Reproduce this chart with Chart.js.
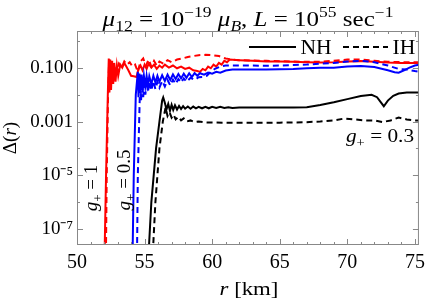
<!DOCTYPE html>
<html>
<head>
<meta charset="utf-8">
<script src="https://cdn.jsdelivr.net/npm/chart.js@4.4.0/dist/chart.umd.min.js"></script>
<style>
  html, body { margin: 0; padding: 0; background: #fff; }
  #wrap { width: 431px; height: 300px; }
</style>
</head>
<body>
<div id="wrap"><canvas id="chart" width="431" height="300"></canvas></div>
<script>
// g+ = 1 (red)
const red_NH_r = [52.0, 52.15, 52.28, 52.35, 52.4, 52.46, 52.52, 52.6, 52.68, 52.76, 52.85, 52.95, 53.05, 53.2, 53.35, 53.5, 53.65, 53.8, 54.0, 54.2, 54.4, 54.55, 54.7, 54.85, 55.0, 55.15, 55.3, 55.5, 55.7, 55.9, 56.1, 56.3, 56.5, 56.8, 57.1, 57.4, 57.7, 58.0, 58.3, 58.6, 58.9, 59.1, 59.3, 59.5, 59.7, 59.9, 60.1, 60.3, 60.5, 60.7, 60.9, 61.1, 61.3, 62, 63, 64, 65, 66, 67, 68, 69, 70, 71, 72, 73, 74, 75, 75.4];
const red_NH_d = [1e-9, 1e-5, 1e-2, 0.22, 0.012, 0.2, 0.015, 0.18, 0.025, 0.15, 0.03, 0.12, 0.05, 0.13, 0.1, 0.15, 0.11, 0.08, 0.05, 0.048, 0.045, 0.09, 0.12, 0.08, 0.13, 0.09, 0.14, 0.1, 0.13, 0.09, 0.12, 0.1, 0.13, 0.1, 0.12, 0.095, 0.11, 0.09, 0.1, 0.08, 0.075, 0.07, 0.09, 0.08, 0.11, 0.095, 0.13, 0.11, 0.15, 0.13, 0.18, 0.16, 0.2, 0.19, 0.18, 0.17, 0.17, 0.165, 0.16, 0.155, 0.16, 0.17, 0.175, 0.165, 0.155, 0.15, 0.15, 0.15];
const red_IH_r = [52.12, 52.2, 52.3, 52.38, 52.45, 52.55, 52.65, 52.8, 52.95, 53.1, 53.3, 53.5, 53.7, 53.9, 54.1, 54.3, 54.5, 54.7, 54.9, 55.1, 55.3, 55.5, 55.7, 55.9, 56.1, 56.4, 56.7, 57.0, 57.4, 57.8, 58.2, 58.6, 59.0, 59.5, 60.0, 60.5, 61.0, 61.5, 62, 63, 64, 65, 66, 67, 68, 69, 70, 71, 72, 73, 74, 75, 75.4];
const red_IH_d = [1e-9, 1e-5, 1e-2, 0.2, 0.03, 0.15, 0.05, 0.12, 0.07, 0.14, 0.1, 0.17, 0.13, 0.16, 0.11, 0.13, 0.07, 0.17, 0.22, 0.12, 0.2, 0.11, 0.18, 0.12, 0.17, 0.14, 0.19, 0.16, 0.2, 0.22, 0.25, 0.27, 0.29, 0.3, 0.29, 0.27, 0.22, 0.2, 0.19, 0.185, 0.18, 0.175, 0.17, 0.165, 0.165, 0.18, 0.2, 0.2, 0.18, 0.165, 0.16, 0.16, 0.16];

// g+ = 0.5 (blue)
const blue_NH_r = [54.08, 54.2, 54.35, 54.5, 54.55, 54.62, 54.7, 54.78, 54.86, 54.95, 55.05, 55.15, 55.25, 55.35, 55.5, 55.65, 55.8, 55.95, 56.1, 56.3, 56.5, 56.7, 56.9, 57.1, 57.3, 57.5, 57.7, 57.9, 58.1, 58.3, 58.5, 58.7, 58.9, 59.1, 59.4, 59.7, 60, 60.3, 60.6, 61, 61.5, 62, 63, 64, 65, 66, 67, 68, 69, 70, 71, 72, 73, 73.5, 73.8, 74.2, 74.6, 75, 75.4];
const blue_NH_d = [1e-9, 1e-5, 1e-2, 0.07, 0.008, 0.06, 0.012, 0.055, 0.015, 0.05, 0.02, 0.05, 0.022, 0.048, 0.025, 0.05, 0.028, 0.05, 0.03, 0.052, 0.032, 0.055, 0.035, 0.056, 0.038, 0.058, 0.04, 0.06, 0.042, 0.062, 0.045, 0.063, 0.05, 0.062, 0.055, 0.066, 0.06, 0.07, 0.065, 0.078, 0.085, 0.085, 0.085, 0.085, 0.088, 0.09, 0.095, 0.1, 0.1, 0.11, 0.115, 0.105, 0.08, 0.068, 0.065, 0.08, 0.1, 0.12, 0.13];
const blue_IH_r = [54.42, 54.5, 54.6, 54.68, 54.74, 54.82, 54.9, 54.98, 55.06, 55.15, 55.25, 55.35, 55.5, 55.65, 55.8, 55.95, 56.1, 56.3, 56.5, 56.7, 56.9, 57.1, 57.3, 57.5, 57.7, 57.9, 58.1, 58.4, 58.7, 59.0, 59.3, 59.6, 59.9, 60.2, 60.6, 61, 62, 63, 64, 65, 66, 67, 68, 69, 70, 71, 72, 73, 73.8, 74.4, 75, 75.4];
const blue_IH_d = [1e-9, 1e-5, 1e-3, 0.045, 0.006, 0.04, 0.008, 0.035, 0.01, 0.032, 0.012, 0.03, 0.014, 0.032, 0.016, 0.03, 0.018, 0.032, 0.02, 0.035, 0.022, 0.036, 0.025, 0.038, 0.028, 0.04, 0.03, 0.042, 0.035, 0.044, 0.045, 0.05, 0.07, 0.09, 0.11, 0.12, 0.12, 0.12, 0.118, 0.12, 0.125, 0.13, 0.14, 0.15, 0.17, 0.18, 0.16, 0.12, 0.09, 0.085, 0.075, 0.07];

// g+ = 0.3 (black)
const black_NH_r = [55.18, 55.5, 55.85, 56.1, 56.3, 56.38, 56.5, 56.62, 56.75, 56.88, 57.0, 57.12, 57.25, 57.4, 57.55, 57.7, 57.85, 58.0, 58.2, 58.4, 58.6, 58.8, 59.0, 59.25, 59.5, 59.75, 60.0, 60.3, 60.6, 60.9, 61.2, 61.5, 62, 63, 64, 65, 66, 67, 68, 69, 70, 71, 71.8, 72.2, 72.5, 72.7, 73.0, 73.4, 73.8, 74.4, 75, 75.4];
const black_NH_d = [1e-9, 1e-6, 1e-4, 1e-3, 0.006, 0.0078, 0.005, 0.0028, 0.0045, 0.0025, 0.0042, 0.0027, 0.004, 0.0028, 0.0038, 0.0029, 0.0037, 0.003, 0.0036, 0.003, 0.0036, 0.0031, 0.0035, 0.0031, 0.0035, 0.0031, 0.0035, 0.0032, 0.0035, 0.0032, 0.0034, 0.0032, 0.0033, 0.0033, 0.0033, 0.0033, 0.0033, 0.0034, 0.0041, 0.0052, 0.0068, 0.0088, 0.0098, 0.008, 0.005, 0.0037, 0.006, 0.009, 0.011, 0.012, 0.012, 0.012];
const black_IH_r = [55.5, 55.8, 56.1, 56.35, 56.55, 56.7, 56.85, 57.0, 57.15, 57.3, 57.5, 57.7, 57.9, 58.1, 58.4, 58.7, 59.0, 59.5, 60, 61, 62, 63, 64, 65, 66, 67, 68, 69, 69.8, 70.5, 71.3, 72, 72.6, 73.2, 73.8, 74.4, 75, 75.4];
const black_IH_d = [1e-9, 1e-6, 1e-4, 1e-3, 0.0033, 0.0016, 0.0022, 0.0014, 0.0018, 0.0012, 0.0015, 0.0011, 0.0013, 0.001, 0.0011, 0.00095, 0.001, 0.00093, 0.00092, 0.0009, 0.0009, 0.0009, 0.0009, 0.00091, 0.00092, 0.00095, 0.001, 0.0011, 0.0013, 0.0012, 0.0011, 0.0011, 0.00095, 0.0011, 0.0014, 0.0012, 0.0011, 0.0011];

const yTickValues = [1e-7, 1e-6, 1e-5, 1e-4, 1e-3, 1e-2, 1e-1, 1];
const yTickLabels = ['10⁻⁷', '', '10⁻⁵', '', '0.001', '', '0.100', ''];

const FONT = '"Liberation Serif", "Times New Roman", serif';
const pts = (xs, ys) => xs.map((x, i) => ({ x: x, y: ys[i] }));

function series(label, xs, ys, color, dashed) {
  return {
    label: label,
    data: pts(xs, ys),
    borderColor: color,
    borderWidth: 2,
    borderDash: dashed ? [6, 4] : [],
    pointRadius: 0,
    showLine: true,
    fill: false,
    tension: 0
  };
}

// draws a string made of pieces, some italic / sub / sup, centred on (cx, cy)
function richText(ctx, parts, size, cx, cy, rot, sx) {
  const fontOf = p => (p.i ? 'italic ' : '') + (p.s ? Math.round(size * 0.7) : size) + 'px ' + FONT;
  ctx.save();
  ctx.translate(cx, cy);
  if (rot) ctx.rotate(rot);
  if (sx) ctx.scale(sx, 1);
  let w = 0;
  parts.forEach(p => { ctx.font = fontOf(p); w += ctx.measureText(p.t).width; });
  let x = -w / 2;
  ctx.fillStyle = '#000';
  ctx.textBaseline = 'alphabetic';
  parts.forEach(p => {
    ctx.font = fontOf(p);
    const dy = p.s === 'sup' ? -size * 0.42 : p.s === 'sub' ? size * 0.25 : 0;
    ctx.fillText(p.t, x, size * 0.33 + dy);
    x += ctx.measureText(p.t).width;
  });
  ctx.restore();
}

const decor = {
  id: 'decor',
  afterDatasetsDraw(chart) {
    const { ctx, chartArea: a, scales } = chart;
    const xs = scales.x, ys = scales.y;
    ctx.save();
    ctx.strokeStyle = '#888';
    ctx.lineWidth = 1;
    ctx.strokeRect(a.left + 0.5, a.top + 0.5, a.right - a.left - 1, a.bottom - a.top - 1);
    ctx.beginPath();
    xs.ticks.forEach(t => {
      const px = Math.round(xs.getPixelForValue(t.value)) + 0.5;
      const len = t.label ? 6 : 3;
      ctx.moveTo(px, a.bottom); ctx.lineTo(px, a.bottom - len);
      ctx.moveTo(px, a.top); ctx.lineTo(px, a.top + len);
    });
    ys.ticks.forEach(t => {
      const py = Math.round(ys.getPixelForValue(t.value)) + 0.5;
      const len = t.label ? 6 : 3;
      ctx.moveTo(a.left, py); ctx.lineTo(a.left + len, py);
      ctx.moveTo(a.right, py); ctx.lineTo(a.right - len, py);
    });
    ctx.stroke();

    // legend
    ctx.strokeStyle = '#000';
    ctx.lineWidth = 2;
    ctx.beginPath(); ctx.moveTo(249, 47); ctx.lineTo(296, 47); ctx.stroke();
    ctx.setLineDash([6, 4]);
    ctx.beginPath(); ctx.moveTo(343, 47); ctx.lineTo(388, 47); ctx.stroke();
    ctx.setLineDash([]);
    ctx.restore();
    richText(ctx, [{ t: 'NH' }], 20, 316, 47, 0, 1.08);
    richText(ctx, [{ t: 'IH' }], 20, 404, 47, 0, 1.08);

    // title, axis titles, annotations
    richText(ctx, [
      { t: 'μ', i: 1 }, { t: '12', s: 'sub' }, { t: ' = 10' }, { t: '−19', s: 'sup' }, { t: ' ' },
      { t: 'μ', i: 1 }, { t: 'B', i: 1, s: 'sub' }, { t: ', ' }, { t: 'L', i: 1 }, { t: ' = 10' },
      { t: '55', s: 'sup' }, { t: ' sec' }, { t: '−1', s: 'sup' }
    ], 20, 248, 19, 0, 1.25);
    richText(ctx, [{ t: 'Δ(' }, { t: 'r', i: 1 }, { t: ')' }], 19, 10, 138, -Math.PI / 2);
    richText(ctx, [{ t: 'r', i: 1 }, { t: ' [km]' }], 19, 249, 289, 0, 1.2);
    richText(ctx, [{ t: 'g', i: 1 }, { t: '+', s: 'sub' }, { t: ' = 1' }], 19, 91, 188, -Math.PI / 2);
    richText(ctx, [{ t: 'g', i: 1 }, { t: '+', s: 'sub' }, { t: ' = 0.5' }], 19, 124, 180, -Math.PI / 2);
    richText(ctx, [{ t: 'g', i: 1 }, { t: '+', s: 'sub' }, { t: ' = 0.3' }], 19, 380, 136, 0, 1.12);
  }
};

new Chart(document.getElementById('chart').getContext('2d'), {
  type: 'scatter',
  data: {
    datasets: [
      series('g+ = 0.3 NH', black_NH_r, black_NH_d, '#000000', false),
      series('g+ = 0.3 IH', black_IH_r, black_IH_d, '#000000', true),
      series('g+ = 0.5 IH', blue_IH_r, blue_IH_d, '#0000ff', true),
      series('g+ = 0.5 NH', blue_NH_r, blue_NH_d, '#0000ff', false),
      series('g+ = 1 IH', red_IH_r, red_IH_d, '#ff0000', true),
      series('g+ = 1 NH', red_NH_r, red_NH_d, '#ff0000', false)
    ]
  },
  options: {
    responsive: false,
    animation: false,
    devicePixelRatio: 1,
    layout: { padding: { left: 0, right: 10, top: 31, bottom: 0 } },
    scales: {
      x: {
        type: 'linear',
        min: 50,
        max: 75.3,
        afterFit: s => { s.height = 55; },
        grid: { display: false, drawTicks: false },
        border: { display: false },
        ticks: {
          stepSize: 1,
          includeBounds: false,
          autoSkip: false,
          maxRotation: 0,
          padding: 6,
          color: '#000',
          font: { family: FONT, size: 20 },
          callback: v => (v % 5 === 0 ? String(v) : '')
        }
      },
      y: {
        type: 'logarithmic',
        min: 2.6e-8,
        max: 2.3,
        afterFit: s => { s.width = 77; },
        afterBuildTicks: s => { s.ticks = yTickValues.map(v => ({ value: v })); },
        grid: { display: false, drawTicks: false },
        border: { display: false },
        ticks: {
          autoSkip: false,
          padding: 4,
          color: '#000',
          font: { family: FONT, size: 19 },
          callback: (v, i) => yTickLabels[i]
        }
      }
    },
    plugins: {
      legend: { display: false },
      title: { display: false },
      tooltip: { enabled: false }
    }
  },
  plugins: [decor]
});
</script>
</body>
</html>
